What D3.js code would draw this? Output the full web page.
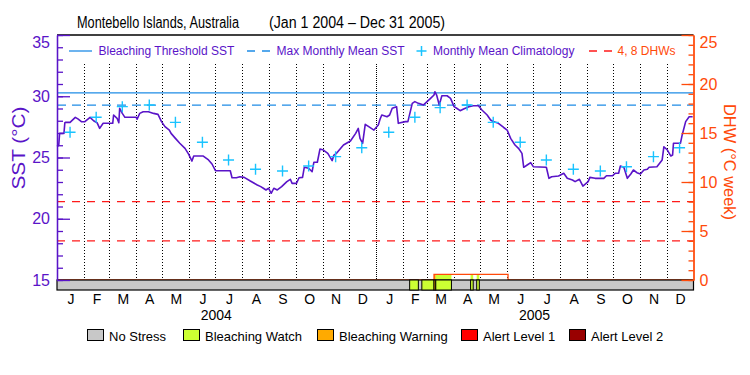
<!DOCTYPE html>
<html>
<head>
<meta charset="utf-8">
<script src="https://cdn.jsdelivr.net/npm/d3@7"></script>
<style>
    body { margin: 0; background: #fff; }
    text { font-family: "Liberation Sans", Arial, sans-serif; }
</style>
</head>
<body>
<div id="chart"></div>
<script>

// daily SST
const sstDates = [
    "2004-01-01","2004-01-03","2004-01-04","2004-01-09","2004-01-10","2004-01-11","2004-01-16","2004-01-22","2004-01-25","2004-01-29",
    "2004-02-02","2004-02-08","2004-02-12","2004-02-16","2004-02-19","2004-02-23","2004-03-05","2004-03-06","2004-03-10","2004-03-12",
    "2004-03-13","2004-03-16","2004-03-19","2004-04-01","2004-04-02","2004-04-05","2004-04-09","2004-04-15","2004-04-21","2004-04-26",
    "2004-04-30","2004-05-04","2004-05-09","2004-05-11","2004-05-16","2004-05-21","2004-05-27","2004-05-31","2004-06-04","2004-06-06",
    "2004-06-17","2004-06-23","2004-06-27","2004-07-01","2004-07-18","2004-07-20","2004-07-25","2004-07-29","2004-08-03","2004-08-10",
    "2004-08-18","2004-08-22","2004-08-25","2004-08-28","2004-08-31","2004-09-03","2004-09-06","2004-09-10","2004-09-15","2004-09-21",
    "2004-09-25","2004-09-27","2004-10-02","2004-10-05","2004-10-09","2004-10-11","2004-10-16","2004-10-20","2004-10-22","2004-10-26",
    "2004-10-29","2004-11-02","2004-11-07","2004-11-12","2004-11-14","2004-11-17","2004-11-25","2004-12-03","2004-12-09","2004-12-12",
    "2004-12-14","2004-12-17","2004-12-20","2004-12-24","2004-12-30",
    "2005-01-04","2005-01-06","2005-01-08","2005-01-14","2005-01-17","2005-01-20","2005-01-25","2005-01-27","2005-02-04","2005-02-07",
    "2005-02-12","2005-02-15","2005-02-19","2005-02-25","2005-03-01","2005-03-05","2005-03-09","2005-03-10","2005-03-12","2005-03-15",
    "2005-03-18","2005-03-24","2005-03-28","2005-04-01","2005-04-04","2005-04-08","2005-04-12","2005-04-18","2005-04-23","2005-04-29",
    "2005-05-03","2005-05-09","2005-05-13","2005-05-16","2005-05-22","2005-05-28","2005-06-01","2005-06-05","2005-06-10","2005-06-14",
    "2005-06-18","2005-06-20","2005-06-24","2005-06-28","2005-07-01","2005-07-16","2005-07-19","2005-07-22","2005-07-30","2005-08-05",
    "2005-08-09","2005-08-15","2005-08-18","2005-08-23","2005-08-27","2005-09-02","2005-09-04","2005-09-10","2005-09-20","2005-09-23",
    "2005-09-30","2005-10-03","2005-10-07","2005-10-09","2005-10-13","2005-10-17","2005-10-21","2005-10-24","2005-10-28","2005-11-01",
    "2005-11-05","2005-11-09","2005-11-11","2005-11-20","2005-11-26","2005-11-28","2005-12-02","2005-12-06","2005-12-08","2005-12-09",
    "2005-12-17","2005-12-19","2005-12-23","2005-12-27","2005-12-31"
];
const sstValues = [
    25.90,26.00,26.97,26.97,27.84,27.87,27.87,28.28,28.15,27.92,
    27.92,28.28,28.00,27.84,27.38,27.79,27.79,28.47,28.20,27.84,
    29.02,28.60,28.28,28.28,28.12,28.60,28.74,28.74,28.60,28.52,
    27.93,27.52,27.24,26.97,26.56,26.16,25.75,25.29,24.71,25.12,
    25.12,24.80,24.47,23.92,23.92,23.35,23.35,23.43,23.38,23.08,
    22.76,22.62,22.49,22.35,22.49,22.08,22.49,22.35,22.62,23.03,
    23.22,22.89,22.89,23.35,23.38,24.20,24.12,23.84,24.61,24.61,
    25.69,25.61,25.34,24.74,25.20,25.34,26.02,26.35,26.97,27.38,
    26.56,26.16,27.71,27.52,27.24,
    27.65,28.12,28.47,28.33,28.47,29.02,29.15,27.79,27.93,27.93,
    29.42,29.56,29.42,29.29,29.56,29.83,30.10,30.37,30.10,29.29,
    30.04,30.04,29.83,29.15,29.02,28.82,28.96,29.15,29.23,29.23,
    28.88,28.47,28.06,27.93,27.79,27.45,27.24,26.56,26.02,25.75,
    25.34,24.20,24.39,24.58,24.25,24.20,23.30,23.43,23.49,23.71,
    23.30,23.16,23.03,23.22,22.67,23.03,23.38,23.30,23.30,23.51,
    23.51,23.71,23.71,24.31,24.20,23.30,23.65,23.98,23.76,23.65,
    23.98,24.04,24.20,24.25,24.80,25.88,25.61,25.12,25.20,26.16,
    26.16,26.84,27.93,28.33,28.33
];

// monthly mean climatology, plotted mid-month
const climDates = [
    "2004-01-16","2004-02-15","2004-03-16","2004-04-16","2004-05-16","2004-06-16",
    "2004-07-16","2004-08-16","2004-09-16","2004-10-16","2004-11-16","2004-12-16",
    "2005-01-16","2005-02-15","2005-03-16","2005-04-16","2005-05-16","2005-06-16",
    "2005-07-16","2005-08-16","2005-09-16","2005-10-16","2005-11-16","2005-12-16"
];
const climValues = [
    27.06,28.28,29.15,29.29,27.87,26.24,24.80,24.04,23.90,24.31,25.07,25.80,
    27.06,28.28,29.07,29.29,27.87,26.24,24.80,24.04,23.90,24.25,25.07,25.80
];

const mmmSST = 29.28;
const thresholdSST = 30.28;
const dhwLevels = [4, 8];

// degree heating weeks (step series)
const dhwDates = ["2004-01-01","2005-03-09","2005-06-02","2005-12-31"];
const dhwValues = [0, 0.57, 0, 0];

// stress periods, everything else is "none"
const stressStart = ["2005-02-09","2005-02-23","2005-03-09","2005-03-11","2005-04-20","2005-04-27"];
const stressEnd   = ["2005-02-19","2005-03-09","2005-03-11","2005-03-29","2005-04-23","2005-04-30"];
const stressLevel = ["watch","watch","warning","watch","watch","watch"];

const stressKeys = ["none","watch","warning","alert1","alert2"];
const stressNames = ["No Stress","Bleaching Watch","Bleaching Warning","Alert Level 1","Alert Level 2"];
const stressColors = ["#c8c8c8","#ccff33","#ffaa00","#ff0000","#990000"];

const monthLetters = ["J","F","M","A","M","J","J","A","S","O","N","D"];

// colours
const purple = "#5a14c8";
const blue = "#1e8ce6";
const cyan = "#19c3ff";
const orange = "#ff4a0a";
const red = "#ff1a1a";

const parseDate = d3.timeParse("%Y-%m-%d");
const sst = sstDates.map((d, i) => ({date: parseDate(d), value: sstValues[i]}));
const clim = climDates.map((d, i) => ({date: parseDate(d), value: climValues[i]}));
const dhw = dhwDates.map((d, i) => ({date: parseDate(d), value: dhwValues[i]}));
const stress = stressStart.map((d, i) => ({start: parseDate(d), end: parseDate(stressEnd[i]), level: stressLevel[i]}));

const stressColor = d3.scaleOrdinal().domain(stressKeys).range(stressColors);

// layout
const W = 750, H = 375;
const margin = {top: 35, left: 57, right: 56.5};
const plotW = W - margin.left - margin.right;
const plotH = 245;
const barH = 10;

const svg = d3.select("#chart").append("svg")
    .attr("width", W)
    .attr("height", H);

svg.append("rect").attr("width", W).attr("height", H).attr("fill", "#fff");

const g = svg.append("g")
    .attr("transform", `translate(${margin.left}, ${margin.top})`);

// scales
const x = d3.scaleTime()
    .domain([parseDate("2004-01-01"), parseDate("2006-01-01")])
    .range([0, plotW]);

const y = d3.scaleLinear().domain([15, 35]).range([plotH, 0]);
const yDhw = d3.scaleLinear().domain([0, 25]).range([plotH, 0]);

// title
svg.append("text")
    .attr("x", 77).attr("y", 28)
    .attr("font-size", 16)
    .attr("textLength", 162).attr("lengthAdjust", "spacingAndGlyphs")
    .text("Montebello Islands, Australia");
svg.append("text")
    .attr("x", 269).attr("y", 28)
    .attr("font-size", 16)
    .attr("textLength", 176).attr("lengthAdjust", "spacingAndGlyphs")
    .text("(Jan 1 2004 – Dec 31 2005)");

// month grid (dotted), year boundary denser
const months = d3.timeMonth.range(parseDate("2004-02-01"), parseDate("2006-01-01"));
g.selectAll(".grid")
    .data(months)
    .join("line")
    .attr("class", "grid")
    .attr("x1", d => Math.round(x(d)) + 0.5)
    .attr("x2", d => Math.round(x(d)) + 0.5)
    .attr("y1", 29)
    .attr("y2", plotH)
    .attr("stroke", "#000")
    .attr("stroke-width", 1)
    .attr("stroke-dasharray", d => d.getMonth() === 0 ? "1,1" : "1,2");

// threshold lines
g.append("line")
    .attr("x1", 0).attr("x2", plotW)
    .attr("y1", y(thresholdSST)).attr("y2", y(thresholdSST))
    .attr("stroke", blue).attr("stroke-width", 1.3);
g.append("line")
    .attr("x1", 0).attr("x2", plotW)
    .attr("y1", y(mmmSST)).attr("y2", y(mmmSST))
    .attr("stroke", blue).attr("stroke-width", 1.3)
    .attr("stroke-dasharray", "9,6");

g.selectAll(".dhwLevel")
    .data(dhwLevels)
    .join("line")
    .attr("class", "dhwLevel")
    .attr("x1", 0).attr("x2", plotW)
    .attr("y1", d => yDhw(d)).attr("y2", d => yDhw(d))
    .attr("stroke", red).attr("stroke-width", 1.3)
    .attr("stroke-dasharray", "8,7");

// SST line
let sstLine = d3.line()
    .x(d => x(d.date))
    .y(d => y(d.value));

g.append("path")
    .datum(sst)
    .attr("d", sstLine)
    .attr("fill", "none")
    .attr("stroke", purple)
    .attr("stroke-width", 1.6)
    .attr("stroke-linejoin", "round");

// climatology crosses
g.selectAll(".clim")
    .data(clim)
    .join("path")
    .attr("class", "clim")
    .attr("transform", d => `translate(${x(d.date)}, ${y(d.value)})`)
    .attr("d", "M-5.5,0H5.5M0,-5.5V5.5")
    .attr("stroke", cyan)
    .attr("stroke-width", 1.4);

// fill under DHW coloured by stress level
const dhwAt = date => {
    let i = d3.bisector(d => d.date).right(dhw, date) - 1;
    return i < 0 ? 0 : dhw[i].value;
};

g.selectAll(".dhwFill")
    .data(stress)
    .join("rect")
    .attr("class", "dhwFill")
    .attr("x", d => x(d.start))
    .attr("width", d => x(d.end) - x(d.start))
    .attr("y", d => yDhw(dhwAt(d.start)))
    .attr("height", d => yDhw(0) - yDhw(dhwAt(d.start)))
    .attr("fill", d => stressColor(d.level));

// DHW line
g.append("path")
    .datum(dhw)
    .attr("d", d3.line().x(d => x(d.date)).y(d => yDhw(d.value)).curve(d3.curveStepAfter))
    .attr("fill", "none")
    .attr("stroke", orange)
    .attr("stroke-width", 1.3);

// stress bar
g.append("rect")
    .attr("x", 0).attr("y", plotH)
    .attr("width", plotW).attr("height", barH)
    .attr("fill", stressColor("none"))
    .attr("stroke", "#000").attr("stroke-width", 1.2);

g.selectAll(".stressSeg")
    .data(stress)
    .join("rect")
    .attr("class", "stressSeg")
    .attr("x", d => x(d.start))
    .attr("width", d => x(d.end) - x(d.start))
    .attr("y", plotH)
    .attr("height", barH)
    .attr("fill", d => stressColor(d.level))
    .attr("stroke", "#000").attr("stroke-width", 1);

// top border
g.append("line")
    .attr("x1", 0).attr("x2", plotW)
    .attr("y1", 0).attr("y2", 0)
    .attr("stroke", "#000").attr("stroke-width", 1.5);

// left axis (SST)
const yAxis = d3.axisLeft(y).tickValues([15, 20, 25, 30, 35])
    .tickSizeInner(-13).tickSizeOuter(0).tickPadding(7);
const yMinor = d3.axisLeft(y).ticks(20).tickSizeInner(-6).tickSizeOuter(0).tickFormat("");

g.append("g").attr("class", "y-minor").attr("color", purple).call(yMinor);
let yAx = g.append("g").attr("class", "y-axis").attr("color", purple).call(yAxis);
g.selectAll(".y-minor path, .y-axis path, .y-minor line, .y-axis line").attr("stroke-width", 1.3);
yAx.selectAll("text")
    .attr("font-size", 16)
    .attr("font-family", "'Liberation Sans', Arial, sans-serif")
    .attr("dy", d => d === 35 ? "0.75em" : "0.32em");

// right axis (DHW)
const rAxis = d3.axisRight(yDhw).tickValues([0, 5, 10, 15, 20, 25])
    .tickSizeInner(-12).tickSizeOuter(0).tickPadding(6);
const rMinor = d3.axisRight(yDhw).ticks(25).tickSizeInner(-5).tickSizeOuter(0).tickFormat("");

g.append("g").attr("class", "r-minor").attr("transform", `translate(${plotW}, 0)`).attr("color", orange).call(rMinor);
let rAx = g.append("g").attr("class", "r-axis").attr("transform", `translate(${plotW}, 0)`).attr("color", orange).call(rAxis);
g.selectAll(".r-minor path, .r-axis path, .r-minor line, .r-axis line").attr("stroke-width", 1.3);
rAx.selectAll("text")
    .attr("font-size", 16)
    .attr("font-family", "'Liberation Sans', Arial, sans-serif")
    .attr("dy", d => d === 25 ? "0.75em" : "0.32em");

// axis titles
svg.append("text")
    .attr("transform", "translate(25, 148) rotate(-90)")
    .attr("text-anchor", "middle")
    .attr("font-size", 18)
    .attr("fill", purple)
    .attr("textLength", 83).attr("lengthAdjust", "spacingAndGlyphs")
    .text("SST (°C)");

svg.append("text")
    .attr("transform", "translate(724, 162) rotate(90)")
    .attr("text-anchor", "middle")
    .attr("font-size", 17)
    .attr("fill", orange)
    .attr("textLength", 116).attr("lengthAdjust", "spacingAndGlyphs")
    .text("DHW (°C week)");

// month letters under the bar
const allMonths = d3.timeMonth.range(parseDate("2004-01-01"), parseDate("2006-01-01"));
const midMonths = allMonths.map(m => new Date((+m + +d3.timeMonth.offset(m, 1)) / 2));

const xAxis = d3.axisBottom(x).tickValues(midMonths)
    .tickSize(0).tickPadding(4)
    .tickFormat(d => monthLetters[d.getMonth()]);

let xAx = g.append("g")
    .attr("class", "x-axis")
    .attr("transform", `translate(0, ${plotH + barH})`)
    .call(xAxis);
xAx.select(".domain").remove();
xAx.selectAll("text")
    .attr("font-size", 14)
    .attr("font-family", "'Liberation Sans', Arial, sans-serif")
    .attr("fill", "#000");

// year labels
const years = [parseDate("2004-01-01"), parseDate("2005-01-01")];
g.selectAll(".year")
    .data(years)
    .join("text")
    .attr("class", "year")
    .attr("x", d => (x(d) + x(d3.timeYear.offset(d, 1))) / 2)
    .attr("y", 320 - margin.top)
    .attr("text-anchor", "middle")
    .attr("font-size", 14)
    .text(d => d.getFullYear());

// top legend
const lg = svg.append("g").attr("class", "legend-top");
lg.append("line").attr("x1", 69).attr("x2", 92).attr("y1", 51).attr("y2", 51)
    .attr("stroke", blue).attr("stroke-width", 1.3);
lg.append("text").attr("x", 98.5).attr("y", 55).attr("font-size", 12).attr("fill", purple)
    .text("Bleaching Threshold SST");

lg.append("line").attr("x1", 247).attr("x2", 271).attr("y1", 51).attr("y2", 51)
    .attr("stroke", blue).attr("stroke-width", 1.3).attr("stroke-dasharray", "8,7");
lg.append("text").attr("x", 276.5).attr("y", 55).attr("font-size", 12).attr("fill", purple)
    .text("Max Monthly Mean SST");

lg.append("path").attr("transform", "translate(421.5, 51)").attr("d", "M-5,0H5M0,-5V5")
    .attr("stroke", cyan).attr("stroke-width", 1.5);
lg.append("text").attr("x", 433).attr("y", 55).attr("font-size", 12).attr("fill", purple)
    .text("Monthly Mean Climatology");

lg.append("line").attr("x1", 589).attr("x2", 613).attr("y1", 51).attr("y2", 51)
    .attr("stroke", red).attr("stroke-width", 1.3).attr("stroke-dasharray", "8,7");
lg.append("text").attr("x", 617.5).attr("y", 55).attr("font-size", 12).attr("fill", orange)
    .text("4, 8 DHWs");

// bottom legend (stress levels)
const boxX = [87.5, 183.5, 317.5, 461.5, 569.5];
const bl = svg.append("g").attr("class", "legend-bottom");
bl.selectAll("rect")
    .data(stressKeys)
    .join("rect")
    .attr("x", (d, i) => boxX[i])
    .attr("y", 329.5)
    .attr("width", 16).attr("height", 11)
    .attr("fill", d => stressColor(d))
    .attr("stroke", "#000").attr("stroke-width", 1);
bl.selectAll("text")
    .data(stressNames)
    .join("text")
    .attr("x", (d, i) => boxX[i] + 21.5)
    .attr("y", 340.5)
    .attr("font-size", 13)
    .text(d => d);

</script>
</body>
</html>
